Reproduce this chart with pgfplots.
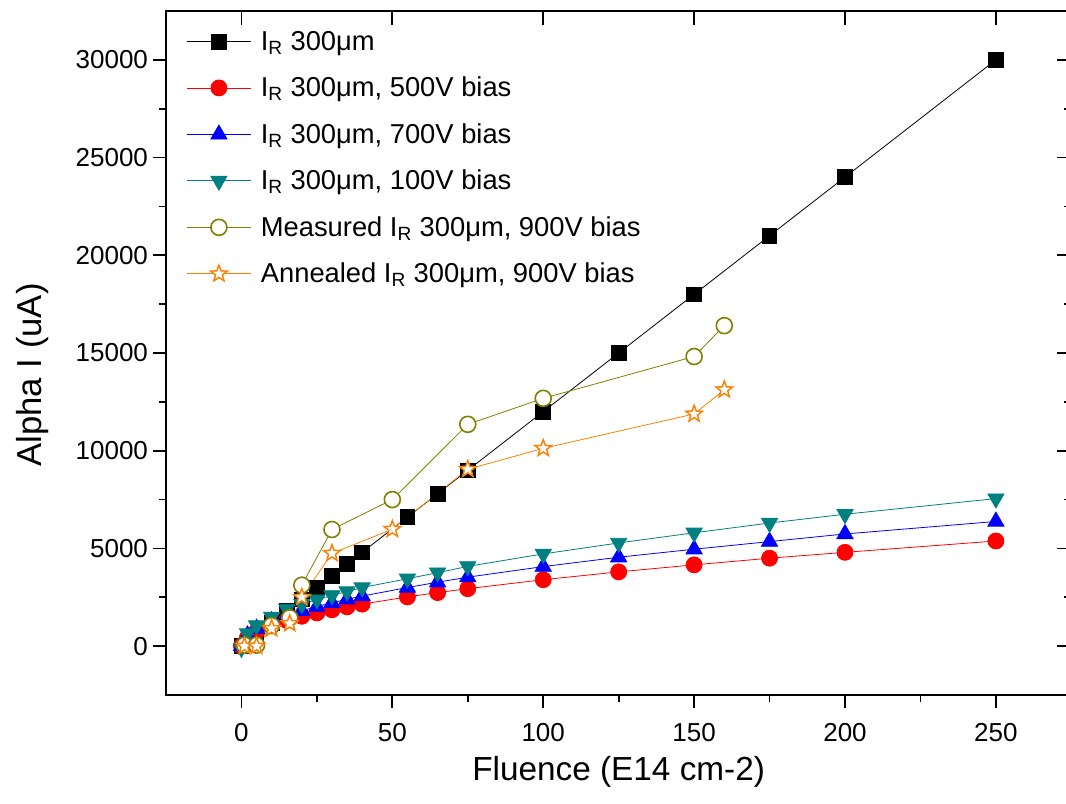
\documentclass[border=0pt]{standalone}
\usepackage{pgfplots}
\pgfplotsset{compat=1.18}
\usepackage{fontspec}
\setmainfont{Liberation Sans}
\definecolor{cteal}{RGB}{0,128,128}
\definecolor{colive}{RGB}{128,128,0}
\definecolor{corange}{RGB}{255,128,0}
\pgfdeclareplotmark{ostar}{%
  \pgfpathmoveto{\pgfpointpolar{90}{\pgfplotmarksize}}%
  \pgfpathlineto{\pgfpointpolar{126}{0.42\pgfplotmarksize}}%
  \pgfpathlineto{\pgfpointpolar{162}{\pgfplotmarksize}}%
  \pgfpathlineto{\pgfpointpolar{198}{0.42\pgfplotmarksize}}%
  \pgfpathlineto{\pgfpointpolar{234}{\pgfplotmarksize}}%
  \pgfpathlineto{\pgfpointpolar{270}{0.42\pgfplotmarksize}}%
  \pgfpathlineto{\pgfpointpolar{306}{\pgfplotmarksize}}%
  \pgfpathlineto{\pgfpointpolar{342}{0.42\pgfplotmarksize}}%
  \pgfpathlineto{\pgfpointpolar{18}{\pgfplotmarksize}}%
  \pgfpathlineto{\pgfpointpolar{54}{0.42\pgfplotmarksize}}%
  \pgfpathclose
  \pgfusepathqfillstroke
}
\begin{document}
\begin{tikzpicture}
\path[use as bounding box, clip] (0,0) rectangle (799.5pt,602.25pt);
\begin{axis}[
  at={(124.5pt,81pt)}, anchor=south west,
  scale only axis, width=679pt, height=513pt,
  xmin=-25, xmax=275, ymin=-2500, ymax=32500,
  xtick={0,50,...,250}, ytick={0,5000,...,30000},
  minor x tick num=1, minor y tick num=1,
  xtick pos=bottom, ytick pos=left, tick align=outside,
  major tick length=10pt, minor tick length=5.5pt,
  axis line style={line width=1.3pt},
  every tick/.style={line width=1.3pt, black},
  scaled ticks=false,
  /pgf/number format/assume math mode=true,
  /pgf/number format/1000 sep={},
  ticklabel style={font=\fontsize{19.5}{22}\selectfont},
  xticklabel style={yshift=-8pt},
  xlabel={Fluence (E14 cm-2)}, ylabel={Alpha I (uA)},
  xlabel style={font=\fontsize{25}{29}\selectfont, at={(axis description cs:0.5,-0.1126)}, anchor=center},
  ylabel style={font=\fontsize{26}{30}\selectfont, at={(axis description cs:-0.1469,0.468)}, anchor=center},
  legend style={at={(axis description cs:0,1)}, anchor=north west, xshift=12pt, yshift=-11pt,
    draw=none, fill=none, font=\fontsize{20.5}{24}\selectfont, row sep=14.5pt, column sep=5pt},
  legend cell align=left,
  legend image code/.code={\draw[mark repeat=2,mark phase=2,#1] plot coordinates {(0cm,0cm)(0.85cm,0cm)(1.7cm,0cm)};},
  every axis plot/.append style={line width=0.6pt},
]
\addplot[black, mark=square*, mark size=5.5pt] coordinates {
(0,0)(2,240)(5,600)(10,1200)(15,1800)(20,2400)(25,3000)(30,3600)(35,4200)(40,4800)(55,6600)(65,7800)(75,9000)(100,12000)(125,15000)(150,18000)(175,21000)(200,24000)(250,30000)};
\addlegendentry{I\textsubscript{R} 300μm}
\addplot[red, mark=*, mark size=6pt] coordinates {
(0,0)(2,450)(5,750)(10,1080)(15,1320)(20,1530)(25,1700)(30,1860)(35,2010)(40,2150)(55,2520)(65,2740)(75,2940)(100,3400)(125,3800)(150,4160)(175,4500)(200,4800)(250,5380)};
\addlegendentry{I\textsubscript{R} 300μm, 500V bias}
\addplot[blue, mark=triangle*, mark size=7pt] coordinates {
(0,0)(2,560)(5,900)(10,1280)(15,1570)(20,1810)(25,2020)(30,2220)(35,2400)(40,2560)(55,3000)(65,3270)(75,3530)(100,4070)(125,4550)(150,4960)(175,5350)(200,5740)(250,6380)};
\addlegendentry{I\textsubscript{R} 300μm, 700V bias}
\addplot[cteal, mark=triangle*, mark size=7pt, mark options={rotate=180}] coordinates {
(0,-100)(2,650)(5,1060)(10,1500)(15,1900)(20,2150)(25,2380)(30,2600)(35,2800)(40,3000)(55,3450)(65,3760)(75,4080)(100,4720)(125,5280)(150,5800)(175,6300)(200,6750)(250,7550)};
\addlegendentry{I\textsubscript{R} 300μm, 100V bias}
\addplot[colive, mark=*, mark size=6pt, mark options={fill=white, line width=1.2pt}] coordinates {
(1,50)(5,50)(10,1050)(16,1450)(20,3120)(30,5970)(50,7500)(75,11350)(100,12680)(150,14820)(160,16400)};
\addlegendentry{Measured I\textsubscript{R} 300μm, 900V bias}
\addplot[corange, mark=ostar, mark size=6.5pt, mark options={fill=white, line width=1.1pt}] coordinates {
(1,0)(5,0)(10,900)(16,1160)(20,2500)(30,4750)(50,5980)(75,9050)(100,10120)(150,11880)(160,13120)};
\addlegendentry{Annealed I\textsubscript{R} 300μm, 900V bias}
\end{axis}
\begin{axis}[
  at={(124.5pt,81pt)}, anchor=south west,
  scale only axis, width=679pt, height=513pt,
  xmin=-25, xmax=275, ymin=-2500, ymax=32500,
  xtick={0,50,...,250}, ytick={0,5000,...,30000},
  minor y tick num=1,
  xtick pos=top, ytick pos=right, tick align=inside,
  major tick length=10.5pt, minor tick length=5.5pt,
  axis line style={line width=1.3pt},
  every tick/.style={line width=1.3pt, black},
  xticklabels={}, yticklabels={},
]
\end{axis}
\end{tikzpicture}
\end{document}
